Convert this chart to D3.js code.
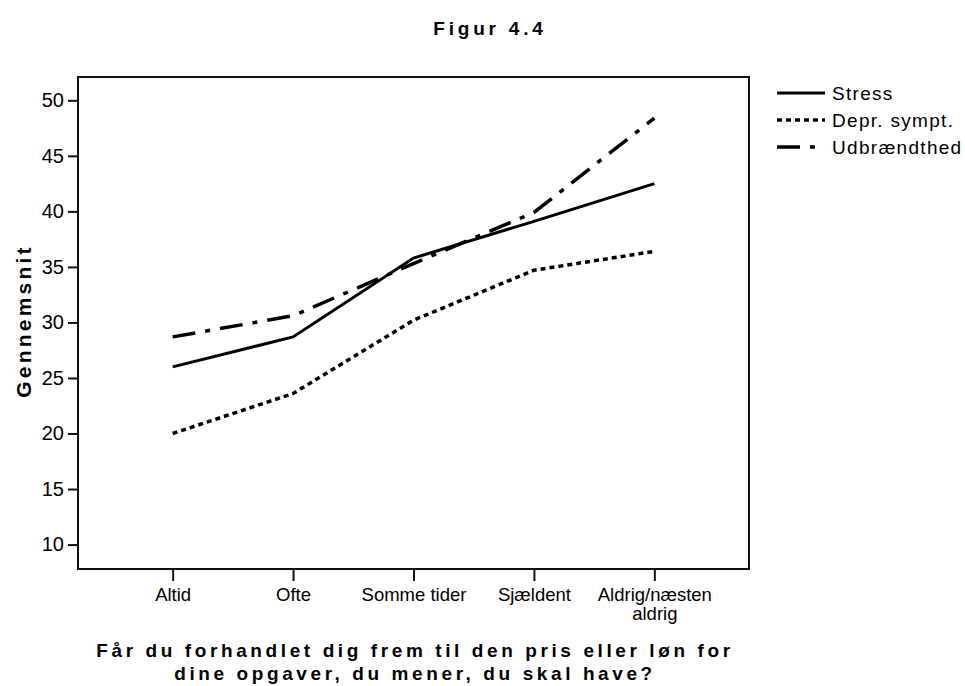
<!DOCTYPE html>
<html>
<head>
<meta charset="utf-8">
<script src="https://cdn.jsdelivr.net/npm/d3@7"></script>
<style>
body { margin: 0; background: #fff; }
svg { display: block; }
text { font-family: "Liberation Sans", Arial, sans-serif; fill: #000; }
</style>
</head>
<body>
<svg width="965" height="686"></svg>
<script>
// kategorier paa x-aksen (linjeskift med \n)
var categories = ["Altid", "Ofte", "Somme tider", "Sjældent", "Aldrig/næsten\naldrig"];
// gennemsnit pr. kategori
var stress = [26.0, 28.7, 35.8, 39.1, 42.5];
var depr = [20.0, 23.6, 30.2, 34.7, 36.4];
var udbr = [28.7, 30.6, 35.3, 39.9, 48.4];
var seriesNames = ["Stress", "Depr. sympt.", "Udbrændthed"];
var yTicks = [10, 15, 20, 25, 30, 35, 40, 45, 50];

var svg = d3.select('svg');
// plot-omraade
var plotLeft = 78, plotRight = 749, plotTop = 77, plotBottom = 569;

var x = d3.scalePoint().domain(categories).range([plotLeft, plotRight]).padding(0.786);
var y = d3.scaleLinear().domain([7.8, 52.1]).range([plotBottom, plotTop]);

// titel
svg.append('text')
	.attr('x', 490).attr('y', 35)
	.attr('text-anchor', 'middle')
	.style('font-size', '19px').style('font-weight', 'bold').style('letter-spacing', '3.8px')
	.text('Figur 4.4');

// akser
var yAxis = d3.axisLeft(y).tickValues(yTicks).tickSize(10).tickPadding(4).tickSizeOuter(0);
var gy = svg.append('g').attr('transform', 'translate(' + plotLeft + ',0)').call(yAxis);
gy.select('.domain').remove();
gy.selectAll('line').attr('stroke', '#111').attr('stroke-width', 2);
gy.selectAll('text').attr('font-family', null).style('font-size', '20px');

var xAxis = d3.axisBottom(x).tickSize(12).tickPadding(7).tickSizeOuter(0);
var gx = svg.append('g').attr('transform', 'translate(0,' + plotBottom + ')').call(xAxis);
gx.select('.domain').remove();
gx.selectAll('line').attr('stroke', '#111').attr('stroke-width', 2);
gx.selectAll('text').attr('font-family', null).style('font-size', '18.5px')
	.each(function(d){
		var t = d3.select(this);
		var lines = d.split('\n');
		t.text(null);
		lines.forEach(function(l, i){
			t.append('tspan').attr('x', 0).attr('dy', i == 0 ? '0.71em' : '1em').text(l);
		});
	});

// ramme
svg.append('rect')
	.attr('x', plotLeft).attr('y', plotTop)
	.attr('width', plotRight - plotLeft).attr('height', plotBottom - plotTop)
	.attr('fill', 'none').attr('stroke', '#111').attr('stroke-width', 2);

// linjer
var styles = [
	{dash: null, w: 3},
	{dash: '5,4', w: 3.5},
	{dash: '23,10,5,10', w: 3.5}
];
var allSeries = [stress, depr, udbr];
var line = d3.line().x(function(d, i){ return x(categories[i]); }).y(function(d){ return y(d); });

allSeries.forEach(function(s, k){
	svg.append('path')
		.datum(s)
		.attr('d', line)
		.attr('fill', 'none')
		.attr('stroke', '#000')
		.attr('stroke-width', styles[k].w)
		.attr('stroke-dasharray', styles[k].dash);
});

// legend
var leg = svg.append('g');
seriesNames.forEach(function(name, k){
	var cy = 93 + k * 27;
	leg.append('line')
		.attr('x1', 777).attr('x2', 825).attr('y1', cy).attr('y2', cy)
		.attr('stroke', '#000').attr('stroke-width', styles[k].w)
		.attr('stroke-dasharray', styles[k].dash);
	leg.append('text')
		.attr('x', 832).attr('y', cy + 7)
		.style('font-size', '19px').style('letter-spacing', '1.3px')
		.text(name);
});

// akse titler
svg.append('text')
	.attr('transform', 'translate(31,321) rotate(-90)')
	.attr('text-anchor', 'middle')
	.style('font-size', '21px').style('font-weight', 'bold').style('letter-spacing', '3.2px')
	.text('Gennemsnit');

var xt = svg.append('text')
	.attr('text-anchor', 'middle')
	.style('font-size', '19px').style('font-weight', 'bold').style('letter-spacing', '3.6px');
xt.append('tspan').attr('x', 415).attr('y', 657).text('Får du forhandlet dig frem til den pris eller løn for');
xt.append('tspan').attr('x', 415).attr('y', 680).text('dine opgaver, du mener, du skal have?');
</script>
</body>
</html>
